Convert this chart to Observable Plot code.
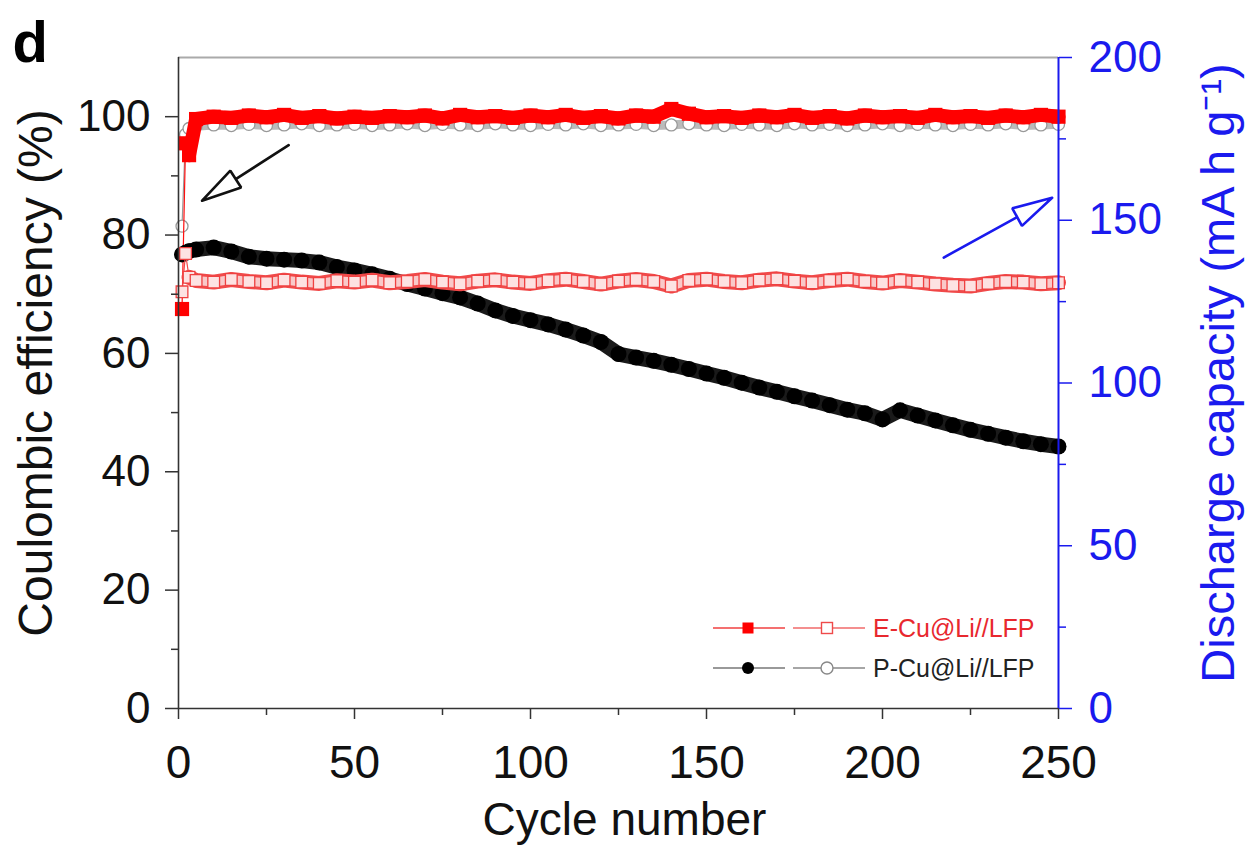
<!DOCTYPE html>
<html>
<head>
<meta charset="utf-8">
<script src="https://cdn.jsdelivr.net/npm/d3@7"></script>
<script src="https://cdn.jsdelivr.net/npm/@observablehq/plot@0.6"></script>
<style>
  body { margin: 0; background: #fff; }
  #wrap { position: relative; width: 1252px; height: 846px; }
  #wrap svg { position: absolute; left: 0; top: 0; }
</style>
</head>
<body>
<div id="wrap"></div>
<script>
// ---------- data ----------
const cycle = [1, 2, 3,
  5, 10, 15, 20, 25, 30, 35, 40, 45, 50,
  55, 60, 65, 70, 75, 80, 85, 90, 95, 100,
  105, 110, 115, 120, 125, 130, 135, 140, 145, 150,
  155, 160, 165, 170, 175, 180, 185, 190, 195, 200,
  205, 210, 215, 220, 225, 230, 235, 240, 245, 250];

// Coulombic efficiency (%), left axis
const eCuCE = [67.5, 95.5, 93.5,
  99.6, 100.0, 99.8, 100.2, 99.9, 100.3, 99.8, 100.1, 99.7, 100.0,
  99.8, 100.1, 99.9, 100.2, 99.7, 100.3, 99.9, 100.1, 99.8, 100.2,
  99.9, 100.3, 99.8, 100.1, 99.7, 100.2, 100.0, 101.3, 100.5, 99.9,
  100.1, 99.8, 100.2, 99.9, 100.3, 99.8, 100.1, 99.7, 100.2, 99.9,
  100.1, 99.8, 100.3, 99.9, 100.1, 99.8, 100.2, 99.9, 100.3, 100.0];
const pCuCE = [81.5, 97.0, 98.0,
  98.4, 98.6, 98.5, 98.7, 98.5, 98.6, 98.8, 98.5, 98.6, 98.7,
  98.5, 98.6, 98.8, 98.5, 98.7, 98.6, 98.5, 98.8, 98.6, 98.5,
  98.7, 98.6, 98.8, 98.5, 98.6, 98.7, 98.5, 98.6, 98.8, 98.6,
  98.5, 98.7, 98.6, 98.5, 98.8, 98.6, 98.7, 98.5, 98.6, 98.8,
  98.5, 98.7, 98.6, 98.5, 98.7, 98.6, 98.8, 98.5, 98.6, 98.7];

// Discharge capacity (mA h g-1), right axis
const pCuCap = [139.5, 140.0, 140.5,
  141.0, 141.6, 140.4, 138.8, 138.2, 137.9, 137.6, 137.0, 135.6, 134.6,
  133.4, 132.0, 130.4, 129.0, 127.6, 126.3, 124.4, 122.3, 120.6, 119.3,
  118.0, 116.4, 114.6, 112.6, 108.9, 107.8, 106.8, 105.6, 104.3, 102.9,
  101.6, 100.1, 98.6, 97.3, 95.9, 94.6, 93.2, 91.8, 90.7, 88.8,
  91.6, 90.0, 88.5, 87.0, 85.6, 84.4, 83.2, 82.1, 81.2, 80.5];
const eCuCap = [128.0, 139.8, 132.5,
  131.5, 131.0, 131.8, 131.2, 130.8, 131.6, 131.0, 130.6, 131.4, 131.0,
  131.6, 130.8, 131.2, 131.8, 131.0, 130.5, 131.3, 131.7, 131.0, 130.6,
  131.4, 131.9, 131.2, 130.4, 131.3, 131.8, 131.2, 129.8, 131.5, 131.9,
  131.2, 130.8, 131.6, 132.0, 131.3, 130.8, 131.5, 131.9, 131.2, 130.7,
  131.5, 131.0, 130.4, 130.0, 129.8, 130.6, 131.2, 131.0, 130.5, 130.8];

// ticks
const ceTicks = [0, 20, 40, 60, 80, 100];
const ceMinor = [10, 30, 50, 70, 90];
const cycleTicks = [0, 50, 100, 150, 200, 250];
const cycleMinor = [25, 75, 125, 175, 225];
const capTicks = [0, 50, 100, 150, 200];
const capMinor = [25, 75, 125, 175];

// texts
const panelLabel = "d";
const xTitle = "Cycle number";
const yTitle = "Coulombic efficiency (%)";
const y2Title = "Discharge capacity (mA h g\u207B\u00B9)";
const legendLabels = ["E-Cu@Li//LFP", "P-Cu@Li//LFP"];

// annotation arrows (data units: cycle, CE %)
const arrowNotes = [
  {tail: [31.3, 95.2], tip: [6.7, 85.8], color: "#111"},
  {tail: [217.4, 76.2], tip: [248.2, 86.3], color: "#1a1aee"}
];

// ---------- layout ----------
const W = 1252, H = 846;
const mL = 178, mR = 194, mT = 57, mB = 138;
const CE_MAX = 110, CAP_MAX = 200, k = CE_MAX / CAP_MAX;
const BLUE = "#1a1aee";
const FONT = "'Liberation Sans', Arial, Helvetica, sans-serif";

const rows = cycle.map((c, i) => ({
  c, eCE: eCuCE[i], pCE: pCuCE[i], pCap: pCuCap[i] * k, eCap: eCuCap[i] * k
}));
const band = rows.filter(d => d.c >= 3);

// pixel helpers mirroring the Plot scales (for arrowhead geometry only)
const xs = d3.scaleLinear([0, 250], [mL, W - mR]);
const ys = d3.scaleLinear([0, CE_MAX], [H - mB, mT]);
const inv = q => ({c: xs.invert(q[0]), v: ys.invert(q[1])});
function arrowParts(a) {
  const t = [xs(a.tail[0]), ys(a.tail[1])], p = [xs(a.tip[0]), ys(a.tip[1])];
  const dx = p[0] - t[0], dy = p[1] - t[1], L = Math.hypot(dx, dy);
  const ux = dx / L, uy = dy / L, hl = 40, hw = 10;
  const bx = p[0] - hl * ux, by = p[1] - hl * uy, nx = -uy, ny = ux;
  return {
    shaft: [t, [bx, by]].map(inv),
    head: [p, [bx + hw * nx, by + hw * ny], [bx - hw * nx, by - hw * ny], p].map(inv),
    color: a.color
  };
}
const arrows = arrowNotes.map(arrowParts);

const arrowMarks = arrows.flatMap(a => [
  Plot.line(a.shaft, {x: "c", y: "v", stroke: a.color, strokeWidth: 2.6}),
  Plot.line(a.head, {x: "c", y: "v", stroke: a.color, strokeWidth: 2.6, fill: "white", strokeLinejoin: "miter"})
]);

const plot = Plot.plot({
  width: W, height: H,
  marginLeft: mL, marginRight: mR, marginTop: mT, marginBottom: mB,
  x: {domain: [0, 250]},
  y: {domain: [0, CE_MAX]},
  style: {fontFamily: FONT, background: "white", overflow: "visible"},
  marks: [
    // frame
    Plot.ruleY([CE_MAX], {stroke: "#aaa", strokeWidth: 2}),
    // P-Cu CE (open grey circles)
    Plot.line(rows, {x: "c", y: "pCE", stroke: "#999", strokeWidth: 1.2}),
    Plot.line(band, {x: "c", y: "pCE", stroke: "#bbb", strokeWidth: 9}),
    Plot.dot(rows, {x: "c", y: "pCE", r: 6, stroke: "#999", fill: "white", strokeWidth: 1.3}),
    // E-Cu CE (filled red squares)
    Plot.line(rows, {x: "c", y: "eCE", stroke: "#ff1010", strokeWidth: 1.2}),
    Plot.line(band, {x: "c", y: "eCE", stroke: "#ff0000", strokeWidth: 14}),
    Plot.dot(rows, {x: "c", y: "eCE", symbol: "square", r: 8, fill: "#ff0000"}),
    // P-Cu capacity (filled black circles)
    Plot.line(rows, {x: "c", y: "pCap", stroke: "#1a1a1a", strokeWidth: 15}),
    Plot.dot(rows, {x: "c", y: "pCap", r: 8, fill: "#000"}),
    // E-Cu capacity (open pink squares)
    Plot.line(rows, {x: "c", y: "eCap", stroke: "#f04848", strokeWidth: 1.2}),
    Plot.line(band, {x: "c", y: "eCap", stroke: "#f04a4a", strokeWidth: 15}),
    Plot.line(band, {x: "c", y: "eCap", stroke: "#f9c9c9", strokeWidth: 9}),
    Plot.dot(rows, {x: "c", y: "eCap", symbol: "square", r: 6.6, stroke: "#ef4040", fill: "#fde2e2", strokeWidth: 1.3}),
    // annotation arrows
    ...arrowMarks,
    // axis lines
    Plot.ruleX([0], {stroke: "#333", strokeWidth: 1.6}),
    Plot.ruleY([0], {stroke: "#333", strokeWidth: 1.6}),
    Plot.ruleX([250], {stroke: BLUE, strokeWidth: 2}),
    // left axis
    Plot.axisY(ceTicks, {anchor: "left", tickSize: 13, tickPadding: 15, fontSize: 44, label: null, stroke: "#333", fill: "#111", strokeWidth: 1.5}),
    Plot.axisY(ceMinor, {anchor: "left", tickSize: 7, tickFormat: () => "", label: null, stroke: "#333", strokeWidth: 1.5}),
    // bottom axis
    Plot.axisX(cycleTicks, {anchor: "bottom", tickSize: 11, tickPadding: 26, fontSize: 46, label: null, stroke: "#333", fill: "#111", strokeWidth: 1.5}),
    Plot.axisX(cycleMinor, {anchor: "bottom", tickSize: 7, tickFormat: () => "", label: null, stroke: "#333", strokeWidth: 1.5}),
    // right axis (capacity)
    Plot.axisY(capTicks.map(v => v * k), {anchor: "right", tickSize: 13, tickPadding: 17, tickFormat: d => String(Math.round(d / k)), fontSize: 44, label: null, stroke: BLUE, fill: BLUE, strokeWidth: 1.5}),
    Plot.axisY(capMinor.map(v => v * k), {anchor: "right", tickSize: 7, tickFormat: () => "", label: null, stroke: BLUE, strokeWidth: 1.5}),
    // titles
    Plot.text([xTitle], {text: d => d, frameAnchor: "bottom", textAnchor: "middle", lineAnchor: "middle", dx: 6, dy: 112, fontSize: 46, fill: "#111"}),
    Plot.text([yTitle], {text: d => d, frameAnchor: "left", textAnchor: "middle", lineAnchor: "middle", dx: -142, dy: -10, rotate: -90, fontSize: 48, fill: "#111"}),
    Plot.text([y2Title], {text: d => d, frameAnchor: "right", textAnchor: "middle", lineAnchor: "middle", dx: 160, dy: -10, rotate: -90, fontSize: 47, fill: BLUE}),
    Plot.text([panelLabel], {text: d => d, frameAnchor: "top-left", textAnchor: "start", lineAnchor: "top", dx: -166, dy: -37, fontSize: 58, fontWeight: "bold", fill: "#000"})
  ]
});

const wrap = document.getElementById("wrap");
wrap.appendChild(plot);

// ---------- legend overlay ----------
const lg = d3.select(wrap).append("svg")
  .attr("width", W).attr("height", H)
  .style("pointer-events", "none")
  .style("font-family", FONT);

const legendRows = [
  {y: 628, label: legendLabels[0], text: "#e8282e",
   line1: "#f04040", line2: "#f06a6a", filled: "square", fillColor: "#ff0000", open: "#ef4a4a"},
  {y: 668, label: legendLabels[1], text: "#222",
   line1: "#777", line2: "#888", filled: "circle", fillColor: "#000", open: "#888"}
];
legendRows.forEach(r => {
  lg.append("line").attr("x1", 713).attr("x2", 785).attr("y1", r.y).attr("y2", r.y)
    .attr("stroke", r.line1).attr("stroke-width", 1.6);
  lg.append("line").attr("x1", 793).attr("x2", 865).attr("y1", r.y).attr("y2", r.y)
    .attr("stroke", r.line2).attr("stroke-width", 1.6);
  if (r.filled === "square") {
    lg.append("rect").attr("x", 748 - 5.5).attr("y", r.y - 5.5).attr("width", 11).attr("height", 11).attr("fill", r.fillColor);
    lg.append("rect").attr("x", 827 - 5.5).attr("y", r.y - 5.5).attr("width", 11).attr("height", 11)
      .attr("fill", "white").attr("stroke", r.open).attr("stroke-width", 1.4);
  } else {
    lg.append("circle").attr("cx", 748).attr("cy", r.y).attr("r", 6).attr("fill", r.fillColor);
    lg.append("circle").attr("cx", 827).attr("cy", r.y).attr("r", 6)
      .attr("fill", "white").attr("stroke", r.open).attr("stroke-width", 1.4);
  }
  lg.append("text").attr("x", 873).attr("y", r.y).attr("dy", "0.35em")
    .attr("font-size", 25).attr("fill", r.text).text(r.label);
});
</script>
</body>
</html>
